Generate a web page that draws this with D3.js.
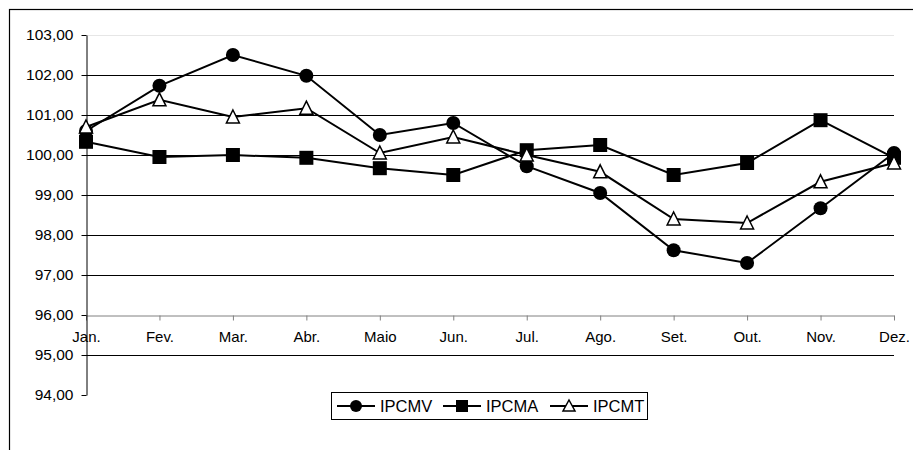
<!DOCTYPE html>
<html><head><meta charset="utf-8">
<script src="https://cdn.jsdelivr.net/npm/d3@7"></script>
<style>body{margin:0;background:#fff}svg{display:block}text{font-family:"Liberation Sans",Arial,sans-serif;fill:#000}</style>
</head><body><svg id="c" width="913" height="450"></svg>
<script>
const months = ["Jan.","Fev.","Mar.","Abr.","Maio","Jun.","Jul.","Ago.","Set.","Out.","Nov.","Dez."];
const ipcmv = [100.60,101.73,102.50,101.98,100.50,100.80,99.72,99.05,97.62,97.30,98.67,100.05];
const ipcma = [100.33,99.95,100.00,99.93,99.67,99.50,100.12,100.25,99.50,99.80,100.87,99.93];
const ipcmt = [100.70,101.38,100.95,101.17,100.05,100.45,100.00,99.58,98.40,98.30,99.33,99.80];
const yTicks = [94,95,96,97,98,99,100,101,102,103];
const seriesNames = ["IPCMV","IPCMA","IPCMT"];

const svg = d3.select("#c");
const loc = d3.formatLocale({decimal:",",thousands:".",grouping:[3],currency:["",""]});
const fmt = loc.format(".2f");

// outer frame
svg.append("rect").attr("x",9.5).attr("y",9.5).attr("width",960).attr("height",500)
  .attr("fill","none").attr("stroke","#000").attr("stroke-width",1.2);

const y = d3.scaleLinear().domain([94,103]).range([395,35]);
const x = d3.scalePoint().domain(months).range([86,894]);

// gridlines
svg.append("g").selectAll("line").data(yTicks.filter(t=>t!==94 && t!==96)).join("line")
  .attr("x1",86).attr("x2",894).attr("y1",d=>Math.round(y(d))+0.5).attr("y2",d=>Math.round(y(d))+0.5)
  .attr("stroke",d=>d===103?"#e6e6e6":"#000").attr("stroke-width",1);

// x axis at 96
const xg = svg.append("g").attr("transform",`translate(0,${Math.round(y(96))+0.5})`)
  .call(d3.axisBottom(x).tickSize(5).tickPadding(10).tickSizeOuter(0));
xg.select(".domain").attr("stroke","#808080");
xg.selectAll(".tick line").attr("stroke","#808080");
xg.selectAll("text").attr("font-size","15px").attr("dy","0.75em");

// y axis
const yg = svg.append("g").attr("transform","translate(86.5,0)")
  .call(d3.axisLeft(y).tickValues(yTicks).tickFormat(fmt).tickSize(5).tickPadding(8).tickSizeOuter(0));
yg.select(".domain").attr("stroke","#000");
yg.selectAll(".tick line").attr("stroke","#000");
yg.selectAll("text").attr("font-size","15.5px");

const line = d3.line().x((d,i)=>x(months[i])).y(d=>y(d));
const data = [ipcmv, ipcma, ipcmt];

function marker(g, type){
  if(type===0) g.append("circle").attr("r",7).attr("fill","#000");
  else if(type===1) g.append("rect").attr("x",-7).attr("y",-7).attr("width",14).attr("height",14).attr("fill","#000");
  else g.append("path").attr("d","M0,-7L6.5,6L-6.5,6Z").attr("fill","#fff").attr("stroke","#000").attr("stroke-width",1.5);
}

data.forEach((vals,si)=>{
  svg.append("path").datum(vals).attr("d",line).attr("fill","none").attr("stroke","#000").attr("stroke-width",2);
});
data.forEach((vals,si)=>{
  vals.forEach((v,i)=>{
    const g = svg.append("g").attr("transform",`translate(${x(months[i])},${y(v)})`);
    marker(g,si);
  });
});

// legend
const lg = svg.append("g");
lg.append("rect").attr("x",331.5).attr("y",392.5).attr("width",316).attr("height",27)
  .attr("fill","#fff").attr("stroke","#000").attr("stroke-width",1);
const lx = [337,443,550];
seriesNames.forEach((n,i)=>{
  const g = lg.append("g").attr("transform",`translate(${lx[i]},406)`);
  g.append("line").attr("x1",0).attr("x2",38).attr("y1",0).attr("y2",0).attr("stroke","#000").attr("stroke-width",2);
  const m = g.append("g").attr("transform","translate(19,0)");
  if(i===0) m.append("circle").attr("r",6).attr("fill","#000");
  else if(i===1) m.append("rect").attr("x",-6).attr("y",-6).attr("width",12).attr("height",12).attr("fill","#000");
  else m.append("path").attr("d","M0,-6L6,5L-6,5Z").attr("fill","#fff").attr("stroke","#000").attr("stroke-width",1.5);
  g.append("text").attr("x",43).attr("y",0).attr("dy","0.36em").attr("font-size","16.5px").text(n);
});
</script></body></html>
